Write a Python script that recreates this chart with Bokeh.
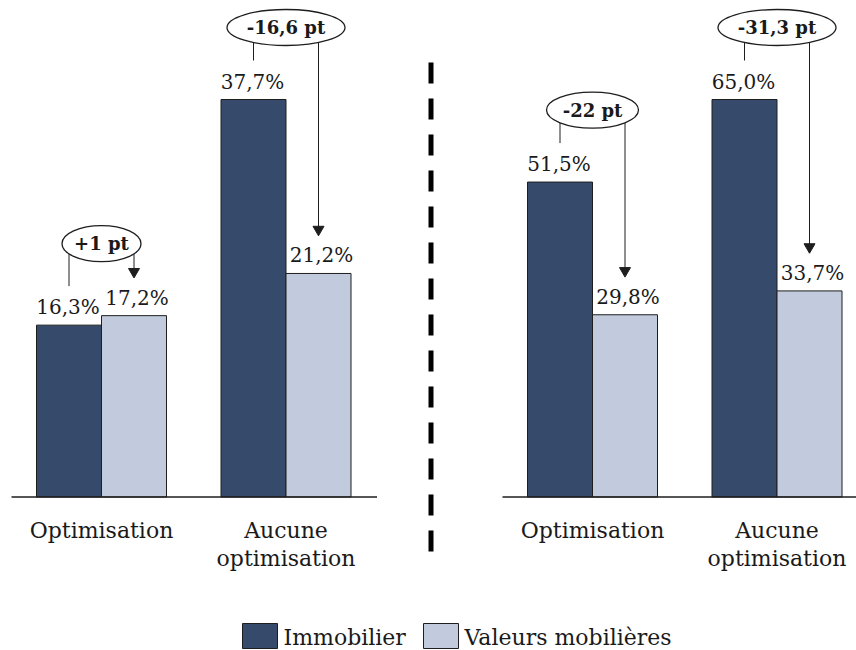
from bokeh.plotting import figure
from bokeh.models import Range1d
from bokeh.layouts import column, row
from bokeh.embed import file_html
from bokeh.resources import INLINE
from bokeh.core.properties import value

# ---------------- data ----------------
categories = ["Optimisation", "Aucune\noptimisation"]
series = ["Immobilier", "Valeurs mobilières"]
left_immobilier = [16.3, 37.7]
left_valeurs = [17.2, 21.2]
left_diff_labels = ["+1 pt", "-16,6 pt"]
right_immobilier = [51.5, 65.0]
right_valeurs = [29.8, 33.7]
right_diff_labels = ["-22 pt", "-31,3 pt"]

# ---------------- style / layout ----------------
FONT = "DejaVu Serif"
DARK = "#364B6C"
LIGHT = "#C1CBDD"
EDGE = "#1E1E1E"
TXT = "#1A1A1A"
COLORS = [DARK, LIGHT]

PANEL_H = 600        # panel height (px)
BASE_PX = 496.5      # baseline position from panel top (px)
TALLEST_PX = 397.5   # height of the tallest bar (px)
GROUP_PX = 184.5     # distance between group centres (px)
BAR_PX = 65          # bar width (px)


def fmt(v):
    return f"{v:.1f}".replace(".", ",") + "%"


def make_panel(width, group0_px, imm, val, diffs, separator_px=None):
    n = len(categories)
    ymax = max(imm + val)
    ky = TALLEST_PX / ymax
    kx = GROUP_PX
    x0 = -group0_px / kx
    p = figure(width=width, height=PANEL_H,
               x_range=Range1d(x0, x0 + width / kx),
               y_range=Range1d(-(PANEL_H - BASE_PX) / ky, BASE_PX / ky),
               output_backend="svg", toolbar_location=None,
               x_axis_location=None, y_axis_location=None,
               min_border=0, outline_line_color=None,
               background_fill_color="white", border_fill_color="white")
    p.grid.visible = False

    bw = BAR_PX / kx
    idx = list(range(n))
    xs_dark = [i - bw / 2 for i in idx]
    xs_light = [i + bw / 2 for i in idx]

    # bars
    p.vbar(x=xs_dark, top=imm, bottom=0, width=bw, fill_color=DARK,
           line_color=EDGE, line_width=1)
    p.vbar(x=xs_light, top=val, bottom=0, width=bw, fill_color=LIGHT,
           line_color=EDGE, line_width=1)

    # baseline
    p.segment(x0=[-bw - 25 / kx], x1=[(n - 1) + bw + 26 / kx], y0=[0], y1=[0],
              line_color=EDGE, line_width=1.5)

    # value labels
    p.text(x=[x - 1 / kx for x in xs_dark], y=[v + 18 / ky for v in imm],
           text=[fmt(v) for v in imm],
           text_align="center", text_baseline="middle",
           text_font=value(FONT), text_font_size="20px", text_color=TXT)
    p.text(x=[x + 3 / kx for x in xs_light], y=[v + 18 / ky for v in val],
           text=[fmt(v) for v in val],
           text_align="center", text_baseline="middle",
           text_font=value(FONT), text_font_size="20px", text_color=TXT)

    # category labels (multi-line)
    for i, cat in enumerate(categories):
        for j, line in enumerate(cat.split("\n")):
            p.text(x=[i], y=[-(33 + 28 * j) / ky], text=[line],
                   text_align="center", text_baseline="middle",
                   text_font=value(FONT), text_font_size="22px", text_color=TXT)

    # difference annotations
    cy = [max(a, b) + 72 / ky for a, b in zip(imm, val)]
    p.segment(x0=xs_dark, x1=xs_dark, y0=cy, y1=[v + 39 / ky for v in imm],
              line_color=EDGE, line_width=1)
    p.segment(x0=xs_light, x1=xs_light, y0=cy, y1=[v + 45 / ky for v in val],
              line_color=EDGE, line_width=1)
    p.scatter(x=xs_light, y=[v + 44 / ky for v in val], marker="inverted_triangle",
              size=11, fill_color=EDGE, line_color=EDGE)
    widths = [(13 * len(d) + 14) / kx for d in diffs]
    p.ellipse(x=idx, y=cy, width=widths, height=[36 / ky] * n,
              fill_color="white", line_color=EDGE, line_width=1.3)
    p.text(x=idx, y=cy, text=diffs, text_align="center", text_baseline="middle",
           text_font=value(FONT), text_font_style="bold", text_font_size="18px",
           text_color=TXT)

    if separator_px is not None:
        sx = x0 + separator_px / kx
        p.segment(x0=[sx], x1=[sx], y0=[(BASE_PX - 62) / ky], y1=[-59.5 / ky],
                  line_color="black", line_width=5, line_dash="21 15",
                  line_cap="butt")
    return p


p1 = make_panel(425, 101, left_immobilier, left_valeurs, left_diff_labels)
p2 = make_panel(431, 167, right_immobilier, right_valeurs, right_diff_labels,
                separator_px=5.5)

# legend strip
LEG_H = 50
leg = figure(width=856, height=LEG_H, x_range=Range1d(0, 856), y_range=Range1d(LEG_H, 0),
             output_backend="svg", toolbar_location=None,
             x_axis_location=None, y_axis_location=None,
             min_border=0, outline_line_color=None,
             background_fill_color="white", border_fill_color="white")
leg.grid.visible = False
item_x = [242, 423]
leg.quad(left=item_x, right=[x + 35 for x in item_x], top=[23] * 2, bottom=[48] * 2,
         fill_color=COLORS, line_color=EDGE, line_width=1)
leg.text(x=[x + 41 for x in item_x], y=[37] * 2, text=series,
         text_align="left", text_baseline="middle",
         text_font=value(FONT), text_font_size="22px", text_color=TXT)

layout = column(row(p1, p2), leg)
open("out.html", "w").write(file_html(layout, INLINE))
